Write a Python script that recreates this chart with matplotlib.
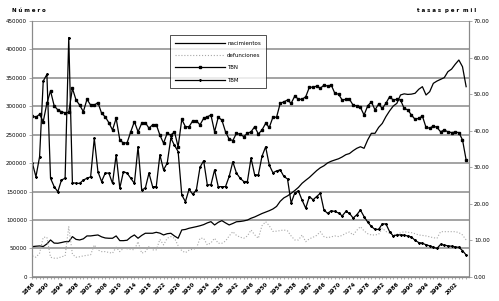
import numpy as np
import matplotlib
matplotlib.use("Agg")
import matplotlib.pyplot as plt
from matplotlib.ticker import FixedLocator, FuncFormatter

# years, one value per year
years = list(range(1886, 2006))

# nacimientos (thousands)
nacimientos = [
    53.3, 54.0, 54.5, 53.5, 58.0, 65.0, 59.5, 59.2, 60.5, 62.0,
    62.0, 70.9, 66.0, 65.0, 67.0, 72.1, 72.1, 73.0, 73.8, 70.5,
    68.5, 68.0, 68.0, 72.1, 63.8, 63.8, 64.5, 70.0, 73.8, 68.0,
    73.0, 76.8, 76.8, 76.8, 78.5, 77.0, 73.8, 76.0, 76.8, 72.0,
    68.0, 82.6, 83.5, 85.6, 87.0, 88.4, 90.0, 92.0, 95.0, 97.2,
    91.4, 96.0, 99.0, 95.0, 91.4, 94.0, 97.0, 97.5, 98.5, 100.0,
    103.2, 105.5, 108.5, 111.5, 114.0, 116.5, 119.5, 124.0, 133.0, 139.0,
    142.5, 147.0, 152.0, 157.5, 164.7, 170.0, 175.0, 181.0, 187.0, 192.0,
    195.5, 200.5, 203.5, 205.7, 207.8, 211.0, 215.0, 217.0, 222.0, 226.2,
    229.0, 226.2, 241.0, 252.6, 252.6, 263.0, 270.0, 282.0, 292.0, 300.5,
    305.3, 320.0, 322.0, 321.0, 321.5, 323.0, 330.0, 334.6, 320.0, 325.8,
    340.5, 344.5, 347.5, 350.5, 361.0, 365.5, 374.0, 381.5, 369.7, 334.6]

defunciones = [
    36.9, 34.6, 41.7, 69.8, 69.8, 34.6, 33.0, 32.9, 35.5, 36.9,
    88.4, 40.0, 34.6, 35.5, 37.0, 38.0, 39.0, 56.3, 47.5, 44.5,
    44.5, 43.0, 41.7, 52.2, 44.5, 50.5, 49.5, 48.7, 47.5, 62.0,
    41.7, 44.5, 53.3, 47.5, 47.5, 66.0, 56.3, 68.0, 70.9, 68.0,
    55.0, 46.0, 42.7, 47.0, 48.7, 50.0, 68.0, 68.0, 56.3, 60.0,
    68.0, 59.2, 59.2, 63.0, 72.0, 79.6, 73.0, 70.0, 68.0, 72.0,
    82.6, 74.0, 68.0, 90.0, 97.2, 90.0, 80.0, 80.5, 81.5, 82.6,
    81.0, 72.0, 65.0, 65.0, 73.8, 62.0, 67.0, 69.8, 73.0, 79.6,
    70.9, 69.0, 70.5, 72.1, 71.0, 73.0, 76.8, 79.0, 73.8, 82.0,
    88.4, 81.0, 76.0, 73.8, 73.8, 75.0, 85.6, 80.0, 76.8, 74.0,
    75.0, 77.5, 79.6, 78.5, 77.9, 76.0, 73.8, 73.0, 72.1, 70.5,
    69.0, 68.0, 79.6, 79.6, 79.6, 79.6, 79.6, 78.0, 73.8, 65.0]

# tasas por mil
tbn = [
    44.0, 43.7, 44.5, 42.5, 47.5, 50.9, 46.8, 45.7, 45.2, 44.9,
    45.0, 51.6, 48.4, 47.0, 45.2, 48.6, 47.0, 47.0, 47.7, 44.8,
    43.8, 42.2, 40.2, 43.4, 37.5, 36.6, 36.7, 39.7, 42.5, 39.7,
    42.0, 42.2, 40.7, 41.6, 41.7, 38.8, 36.6, 39.3, 38.8, 39.7,
    35.6, 43.1, 41.1, 41.1, 42.7, 42.7, 41.6, 43.4, 43.8, 44.3,
    39.7, 43.7, 42.9, 39.7, 37.7, 37.3, 39.3, 39.0, 38.4, 39.3,
    39.7, 41.1, 39.1, 40.2, 42.0, 40.9, 43.7, 43.7, 47.5, 47.9,
    48.4, 47.5, 49.5, 48.6, 48.6, 49.3, 51.9, 51.9, 52.2, 51.6,
    52.5, 52.2, 52.5, 50.2, 50.0, 48.4, 48.6, 48.6, 47.0, 46.8,
    46.4, 44.3, 46.8, 47.9, 45.7, 47.3, 46.1, 47.5, 49.3, 48.4,
    48.6, 48.4, 46.1, 45.7, 44.3, 43.1, 43.4, 44.0, 40.9, 40.7,
    41.3, 40.9, 39.7, 40.2, 39.7, 39.5, 39.6, 39.5, 37.5, 32.0]

tbm = [
    31.2, 27.4, 32.9, 53.6, 55.4, 27.0, 24.7, 23.3, 26.5, 27.0,
    65.5, 25.8, 25.6, 25.6, 26.5, 27.0, 27.4, 37.9, 28.8, 26.1,
    28.4, 28.4, 25.6, 33.4, 24.3, 28.8, 28.4, 27.0, 25.6, 35.6,
    23.8, 24.3, 28.4, 24.7, 24.7, 33.4, 29.3, 31.1, 38.0, 36.0,
    34.3, 22.4, 20.6, 24.0, 22.6, 23.8, 30.0, 31.8, 25.2, 25.2,
    29.3, 24.7, 24.7, 24.7, 27.5, 31.5, 28.4, 27.0, 26.1, 26.1,
    32.5, 27.9, 27.9, 33.0, 35.6, 30.6, 28.5, 29.0, 29.3, 27.5,
    26.8, 20.2, 23.0, 23.5, 21.0, 18.8, 22.0, 21.1, 22.0, 22.9,
    18.3, 17.4, 18.1, 17.9, 17.5, 16.7, 17.9, 17.4, 16.1, 17.0,
    18.3, 16.5, 15.0, 13.8, 13.0, 13.0, 14.5, 14.5, 12.4, 11.2,
    11.5, 11.5, 11.4, 11.2, 10.9, 10.0, 9.4, 9.2, 8.8, 8.5,
    8.1, 7.8, 8.9, 8.7, 8.5, 8.4, 8.2, 8.1, 7.2, 6.0]

x = np.arange(len(years))
grey = '#8a8a8a'

fig = plt.figure(figsize=(4.99, 3.01), dpi=100)
ax = fig.add_axes([0.064, 0.08, 0.876, 0.85])
ax2 = ax.twinx()

l1, = ax.plot(x, np.array(nacimientos) * 1000, color='black', lw=0.9, label='nacimientos')
l2, = ax.plot(x, np.array(defunciones) * 1000, color='#a8a8a8', lw=0.8, ls=':', label='defunciones')
l3, = ax2.plot(x, tbn, color='black', lw=0.9, marker='s', ms=1.6, label='TBN')
l4, = ax2.plot(x, tbm, color='black', lw=0.9, marker='*', ms=1.4, label='TBM')

ax.set_ylim(0, 450000)
ax2.set_ylim(0, 70)
ax.set_xlim(-0.1, 119.8)

ax.set_yticks(np.arange(0, 450001, 50000))
ax.yaxis.set_major_formatter(FuncFormatter(lambda v, p: '%d' % v))
ax2.set_yticks(np.arange(0, 71, 10))
ax2.yaxis.set_major_formatter(FuncFormatter(lambda v, p: '%.2f' % v))

ax.yaxis.grid(True, color=grey, lw=1.1)
ax.set_axisbelow(True)

ax.set_xticks(x[::4])
ax.set_xticklabels([str(y) for y in years[::4]], rotation=45, ha='right',
                   rotation_mode='anchor', fontsize=4, fontweight='bold')
ax.xaxis.set_minor_locator(FixedLocator(x))
ax.tick_params(axis='x', which='both', length=1.5, width=0.5, color=grey, pad=2)
ax.tick_params(axis='y', length=2, width=0.5, color=grey, labelsize=4, pad=1.5)
ax2.tick_params(axis='y', length=2, width=0.5, color=grey, labelsize=4, pad=1.5)

for a in (ax, ax2):
    a.spines['top'].set_visible(False)
    for s in ('left', 'right', 'bottom'):
        a.spines[s].set_color(grey)
        a.spines[s].set_linewidth(0.8)

leg = ax.legend(handles=[l1, l2, l3, l4], loc='upper left',
                bbox_to_anchor=(0.309, 0.955), fontsize=4, frameon=True,
                fancybox=False, edgecolor='black', handlelength=9,
                labelspacing=1.3, borderpad=1.0, handletextpad=0.3)
leg.get_frame().set_linewidth(0.6)

fig.text(0.025, 0.975, 'N ú m e r o', fontsize=4, fontweight='bold', va='top')
fig.text(0.955, 0.975, 't a s a s  p e r  m i l', fontsize=4, fontweight='bold',
         va='top', ha='right')

fig.savefig('out.png', dpi=100)
